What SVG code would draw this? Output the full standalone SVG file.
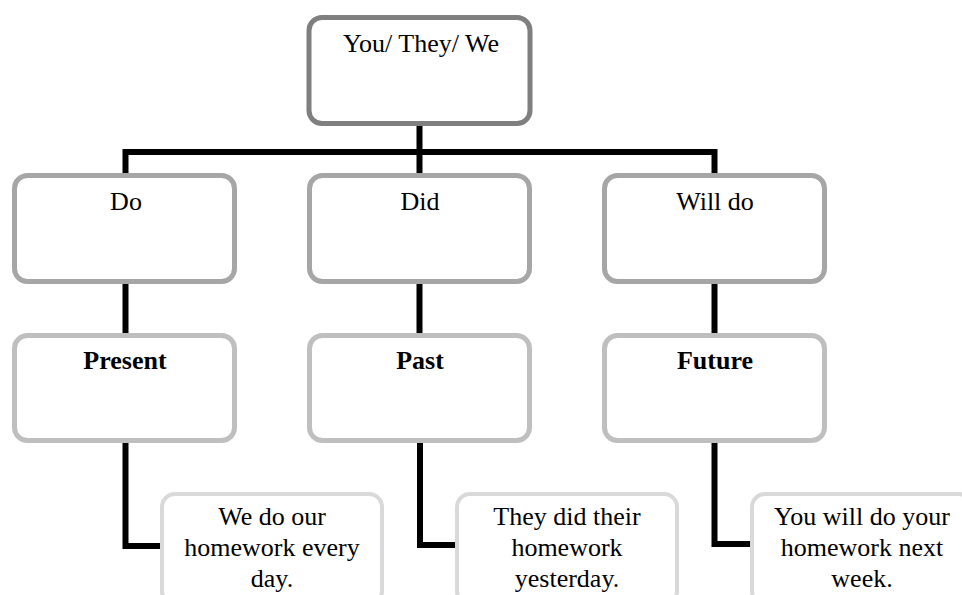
<svg xmlns="http://www.w3.org/2000/svg" width="962" height="595" viewBox="0 0 962 595">
  <style>
    .box { fill: #ffffff; }
    .l0 { stroke: #7f7f7f; stroke-width: 5; }
    .l1 { stroke: #a6a6a6; stroke-width: 5; }
    .l2 { stroke: #bfbfbf; stroke-width: 5; }
    .l3 { stroke: #d9d9d9; stroke-width: 4; }
    .t { font-family: "Liberation Serif", "Times New Roman", serif; font-size: 26px; fill: #000; text-anchor: middle; }
    .b { font-weight: bold; }
    .conn { fill: none; stroke: #000; stroke-width: 6; stroke-linejoin: miter; }
  </style>
  <rect width="962" height="595" fill="#ffffff"/>

  <!-- connectors -->
  <g id="connectors">
    <path class="conn" d="M419.5 126 V175"/>
    <path class="conn" d="M125.5 175 V152 H714.5 V175"/>
    <path class="conn" d="M125.5 284 V333"/>
    <path class="conn" d="M419.5 284 V333"/>
    <path class="conn" d="M714.5 284 V333"/>
    <path class="conn" d="M125.5 443 V546 H160"/>
    <path class="conn" d="M420 443 V545 H455"/>
    <path class="conn" d="M714.5 443 V544 H750"/>
  </g>

  <!-- subject -->
  <g id="subject">
    <rect class="box l0" x="309" y="17.5" width="221" height="106" rx="13"/>
    <text class="t" x="421" y="52">You/ They/ We</text>
  </g>

  <!-- verb forms -->
  <g id="do">
    <rect class="box l1" x="14.5" y="175.5" width="220" height="106" rx="13"/>
    <text class="t" x="126" y="210">Do</text>
  </g>
  <g id="did">
    <rect class="box l1" x="309.5" y="175.5" width="220" height="106" rx="13"/>
    <text class="t" x="420" y="210">Did</text>
  </g>
  <g id="will-do">
    <rect class="box l1" x="604.5" y="175.5" width="220" height="106" rx="13"/>
    <text class="t" x="715" y="210">Will do</text>
  </g>

  <!-- tenses -->
  <g id="present">
    <rect class="box l2" x="14.5" y="335.5" width="220" height="105" rx="13"/>
    <text class="t b" x="125" y="369">Present</text>
  </g>
  <g id="past">
    <rect class="box l2" x="309.5" y="335.5" width="220" height="105" rx="13"/>
    <text class="t b" x="420" y="369">Past</text>
  </g>
  <g id="future">
    <rect class="box l2" x="604.5" y="335.5" width="220" height="105" rx="13"/>
    <text class="t b" x="715" y="369">Future</text>
  </g>

  <!-- example sentences -->
  <g id="example-present">
    <rect class="box l3" x="162" y="494" width="220" height="110" rx="13"/>
    <text class="t" x="272" y="525">We do our</text>
    <text class="t" x="272" y="556">homework every</text>
    <text class="t" x="272" y="587">day.</text>
  </g>
  <g id="example-past">
    <rect class="box l3" x="457" y="494" width="220" height="110" rx="13"/>
    <text class="t" x="567" y="525">They did their</text>
    <text class="t" x="567" y="556">homework</text>
    <text class="t" x="567" y="587">yesterday.</text>
  </g>
  <g id="example-future">
    <rect class="box l3" x="752" y="494" width="220" height="110" rx="13"/>
    <text class="t" x="862" y="525">You will do your</text>
    <text class="t" x="862" y="556">homework next</text>
    <text class="t" x="862" y="587">week.</text>
  </g>
</svg>
